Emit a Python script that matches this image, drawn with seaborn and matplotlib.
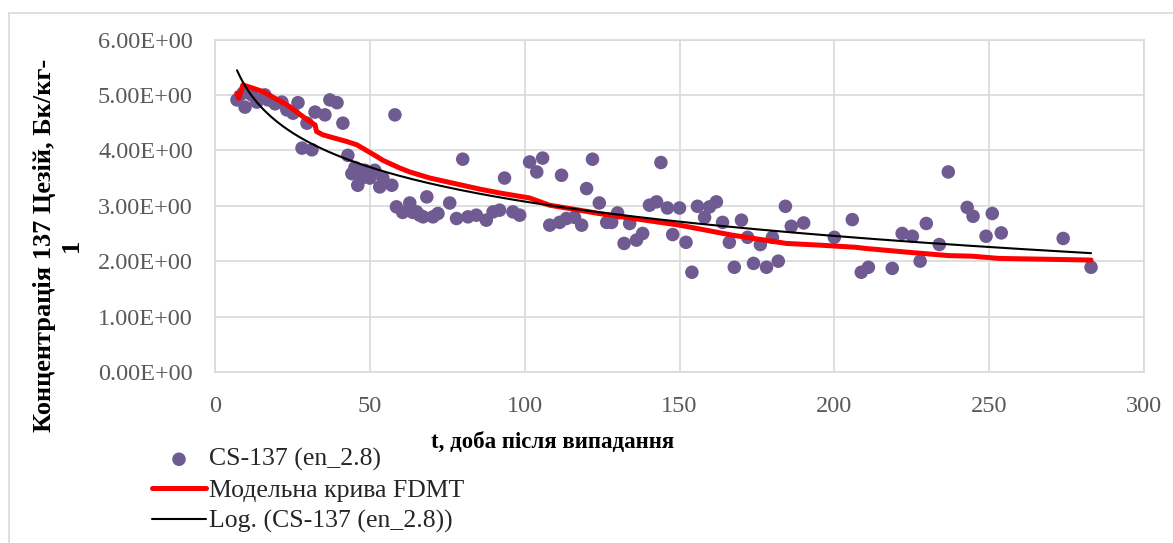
import numpy as np
import pandas as pd
import matplotlib
matplotlib.use("Agg")
import matplotlib.pyplot as plt
from matplotlib.patches import Rectangle
from matplotlib.ticker import FuncFormatter
import seaborn as sns

# Observed Cs-137 concentration (en_2.8) vs days after fallout
t_obs = [7.1, 9.0, 9.7, 11.9, 13.5, 16.1, 17.1, 19.4, 21.6, 23.2, 25.2, 26.8,
         28.1, 29.7, 31.3, 32.3, 35.5, 37.1, 39.4, 41.3, 42.9, 44.2, 45.2, 46.1,
         47.4, 48.4, 50.0, 51.6, 53.2, 54.2, 57.1, 58.1, 58.6, 60.6, 62.9, 63.9,
         65.1, 66.1, 67.2, 68.4, 70.4, 72.0, 75.8, 78.0, 80.0, 81.7, 84.4, 87.6,
         89.8, 91.9, 93.5, 96.2, 98.4, 101.6, 103.9, 105.8, 108.1, 111.3, 111.9,
         113.5, 116.1, 118.4, 120.0, 121.9, 124.1, 126.5, 128.1, 130.0, 132.1,
         133.9, 136.1, 138.1, 140.3, 142.6, 144.0, 146.1, 147.8, 150.0, 152.1,
         154.0, 155.8, 158.1, 159.7, 161.9, 163.9, 166.1, 167.7, 170.0, 172.0,
         173.9, 176.1, 178.1, 180.0, 181.9, 184.2, 186.1, 190.1, 200.0, 205.8,
         208.7, 211.0, 218.7, 221.9, 225.2, 227.7, 229.7, 233.9, 236.8, 242.9,
         244.8, 249.0, 251.0, 253.9, 273.9, 282.9]
c_obs = [4.91, 5.03, 4.78, 5.00, 4.87, 5.00, 4.91, 4.84, 4.87, 4.73, 4.67, 4.86,
         4.04, 4.49, 4.01, 4.69, 4.64, 4.91, 4.86, 4.49, 3.91, 3.58, 3.69, 3.37,
         3.50, 3.64, 3.50, 3.64, 3.34, 3.50, 3.37, 4.64, 2.98, 2.88, 3.05, 2.88,
         2.89, 2.83, 2.80, 3.16, 2.80, 2.86, 3.05, 2.77, 3.84, 2.80, 2.83, 2.74,
         2.89, 2.92, 3.50, 2.89, 2.83, 3.79, 3.61, 3.86, 2.65, 2.70, 3.55,
         2.77, 2.79, 2.65, 3.31, 3.84, 3.05, 2.70, 2.70, 2.87, 2.32,
         2.68, 2.38, 2.50, 3.01, 3.07, 3.78, 2.96, 2.48, 2.96, 2.34,
         1.80, 2.99, 2.79, 2.98, 3.07, 2.70, 2.34, 1.89, 2.74, 2.43,
         1.96, 2.30, 1.89, 2.43, 2.00, 2.99, 2.63, 2.69, 2.43, 2.75,
         1.80, 1.89, 1.87, 2.50, 2.45, 2.00, 2.68, 2.30, 3.61, 2.97,
         2.81, 2.45, 2.86, 2.51, 2.41, 1.89]

# FDMT model curve
t_model = [7.0, 7.7, 9.0, 12.3, 15.5, 23.2, 30.6, 32.3, 32.8, 34.8, 42.5, 45.8,
           52.2, 54.2, 59.7, 62.9, 69.4, 85.5, 92.0, 101.6, 108.0, 117.7, 124.0,
           150.0, 167.0, 184.5, 195.0, 207.0, 210.0, 224.0, 237.0, 244.5, 253.0,
           282.9]
c_model = [5.03, 4.94, 5.18, 5.12, 5.06, 4.82, 4.52, 4.46, 4.34, 4.28, 4.16, 4.10,
           3.89, 3.82, 3.68, 3.61, 3.50, 3.30, 3.23, 3.14, 3.01, 2.92, 2.86,
           2.65, 2.47, 2.32, 2.29, 2.25, 2.23, 2.16, 2.10, 2.09, 2.05, 2.02]

x_ticks = [0, 50, 100, 150, 200, 250, 300]
y_ticks = [0, 1, 2, 3, 4, 5, 6]

label_obs = "CS-137 (en_2.8)"
label_model = "Модельна крива FDMT"
label_log = "Log. (CS-137 (en_2.8))"
x_title = "t, доба після випадання"
y_title = "Концентрація 137 Цезій, Бк/кг-\n1"

# Logarithmic trend line fitted to the observations
slope, intercept = np.polyfit(np.log(t_obs), c_obs, 1)
t_fit = np.linspace(min(t_obs), max(t_obs), 300)
df_fit = pd.DataFrame({"t": t_fit, "c": intercept + slope * np.log(t_fit)})
df_obs = pd.DataFrame({"t": t_obs, "c": c_obs})
df_model = pd.DataFrame({"t": t_model, "c": c_model})

sns.set_theme(style="white")
plt.rcParams["font.family"] = ["Liberation Serif", "DejaVu Serif"]

W, H = 1173, 543
fig = plt.figure(figsize=(W / 100, H / 100), dpi=100)
ax = fig.add_axes([215 / W, 1 - 372 / H, (1144 - 215) / W, (372 - 39.5) / H])

grid_c = "#d9d9d9"
sns.scatterplot(data=df_obs, x="t", y="c", ax=ax, color="#6f5a91", s=95,
                edgecolor="none", linewidth=0, label=label_obs, zorder=3)
sns.lineplot(data=df_model, x="t", y="c", ax=ax, color="#ff0000", lw=3.6,
             sort=False, estimator=None, label=label_model, zorder=4)
sns.lineplot(data=df_fit, x="t", y="c", ax=ax, color="black", lw=1.5,
             sort=False, estimator=None, label=label_log, zorder=5)

ax.set_xlim(0, 300)
ax.set_ylim(0, 6)
ax.set_xticks(x_ticks)
ax.set_yticks(y_ticks)
ax.yaxis.set_major_formatter(FuncFormatter(lambda v, p: f"{v:.2E}"))
ax.grid(True, color=grid_c, lw=1.2)
ax.set_axisbelow(True)
for sp in ax.spines.values():
    sp.set_color(grid_c)
    sp.set_linewidth(1.2)
ax.tick_params(axis="both", length=0, labelcolor="#595959", labelsize=17.5)
ax.tick_params(axis="y", pad=16)
ax.tick_params(axis="x", pad=17)
ax.set_xlabel("")
ax.set_ylabel("")

handles, labels = ax.get_legend_handles_labels()
ax.get_legend().remove()
fig.legend(handles, labels, loc="upper left",
           bbox_to_anchor=(152 / W, 1 - 448 / H), frameon=False,
           fontsize=18.5, borderaxespad=0, borderpad=0, handlelength=2.1,
           handletextpad=0.1, labelspacing=0.3, scatterpoints=1)

fig.text(553 / W, 1 - 442 / H, x_title, ha="center", va="center",
         fontsize=16.5, fontweight="bold", color="black")
fig.text(58 / W, 1 - 245 / H, y_title, ha="center", va="center",
         rotation=90, fontsize=19, fontweight="bold", color="black",
         multialignment="center", linespacing=1.2)

# Chart outer frame
fig.patches.append(Rectangle((9 / W, -0.1), 1.2, 1 - 13 / H + 0.1,
                             transform=fig.transFigure, fill=False,
                             edgecolor=grid_c, lw=1.2, zorder=0))

fig.savefig("out.png", dpi=100, facecolor="white")
